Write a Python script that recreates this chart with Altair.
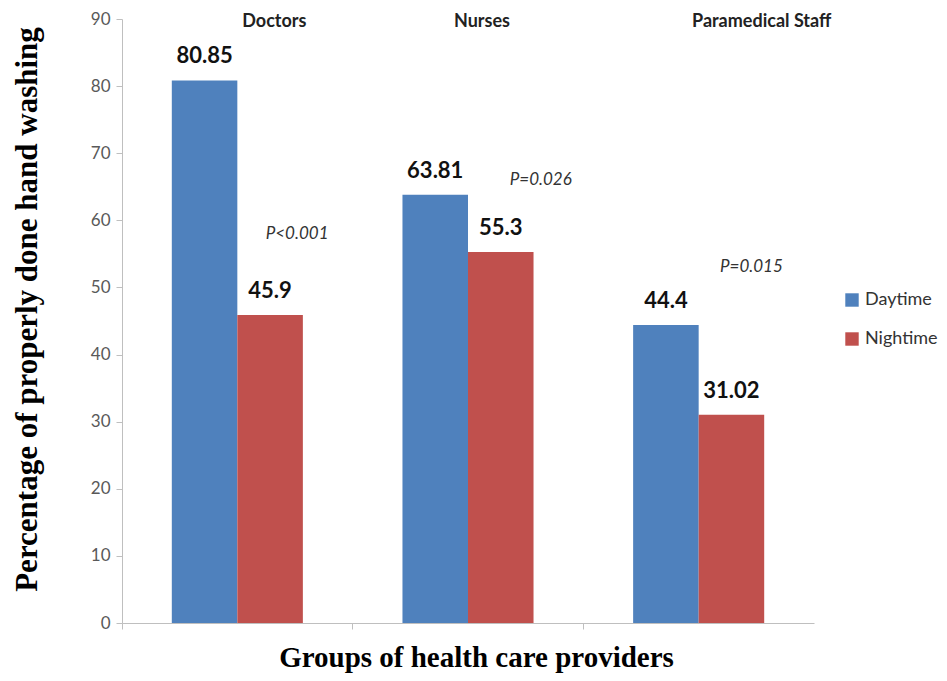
import altair as alt
import pandas as pd

groups = ["Doctors", "Nurses", "Paramedical Staff"]
shifts = ["Daytime", "Nightime"]
daytime = [80.85, 63.81, 44.4]
nighttime = [45.9, 55.3, 31.02]
daytime_labels = ["80.85", "63.81", "44.4"]
nighttime_labels = ["45.9", "55.3", "31.02"]
p_labels = ["P<0.001", "P=0.026", "P=0.015"]
p_y = [58, 66, 53]
group_label_y = [90, 90, 90]

rows = []
for g, v, l in zip(groups, daytime, daytime_labels):
    rows.append({"group": g, "shift": shifts[0], "value": v, "label": l})
for g, v, l in zip(groups, nighttime, nighttime_labels):
    rows.append({"group": g, "shift": shifts[1], "value": v, "label": l})
df = pd.DataFrame(rows)

FONT = "Lato"
SERIF = "Liberation Serif"

x_axis = alt.Axis(title="Groups of health care providers", labels=False,
                  bandPosition=0, tickSize=6, tickColor="#BFBFBF", grid=False,
                  domainColor="#BFBFBF", titleFont=SERIF, titleFontSize=29,
                  titleFontWeight="bold", titleColor="#000000",
                  titleX=354, titleY=34, titleBaseline="middle", titleAlign="center")
y_axis = alt.Axis(title="Percentage of properly done hand washing",
                  values=list(range(0, 91, 10)), tickSize=6, tickColor="#BFBFBF",
                  domainColor="#BFBFBF", labelFont=FONT, labelFontSize=17,
                  labelColor="#595959", labelPadding=6, grid=False,
                  titleFont=SERIF, titleFontSize=31, titleFontWeight="bold",
                  titleColor="#000000", titleX=-95, titleY=290, titleAngle=-90,
                  titleBaseline="middle", titleAlign="center")

def xenc():
    return alt.X("group:N", sort=groups,
                 scale=alt.Scale(paddingInner=0, paddingOuter=0), axis=x_axis)

def yenc(field):
    return alt.Y(field, scale=alt.Scale(domain=[0, 90]), axis=y_axis)

xoff = alt.XOffset("shift:N", sort=shifts,
                   scale=alt.Scale(paddingInner=0, paddingOuter=0.76))

color = alt.Color("shift:N",
                  scale=alt.Scale(domain=shifts, range=["#4F81BD", "#C0504D"]),
                  legend=alt.Legend(title=None, orient="none", legendX=721, legendY=272,
                                    symbolType="square", symbolSize=180,
                                    symbolStrokeWidth=0, labelFont=FONT,
                                    labelFontSize=18, labelColor="#333333",
                                    rowPadding=21, labelOffset=4))

bars = alt.Chart(df).mark_bar().encode(x=xenc(), xOffset=xoff, y=yenc("value:Q"), color=color)

vals = alt.Chart(df).mark_text(baseline="bottom", dy=-12, font=FONT, fontSize=22,
                               fontWeight="bold", color="#111111").encode(
    x=xenc(), xOffset=xoff, y=yenc("value:Q"), text="label:N")

layers = [bars, vals]

cat_dx = [37, 14, 63]
p_dx = [27, 40, 20]
for i, g in enumerate(groups):
    gdf = pd.DataFrame({"group": [g], "top": [group_label_y[i]], "text": [g]})
    layers.append(alt.Chart(gdf).mark_text(baseline="middle", dx=cat_dx[i], dy=3, font=FONT,
                                           fontSize=18, fontWeight="bold",
                                           color="#222222").encode(
        x=xenc(), y=yenc("top:Q"), text="text:N"))
    pdf = pd.DataFrame({"group": [g], "shift": [shifts[1]], "py": [p_y[i]], "text": [p_labels[i]]})
    layers.append(alt.Chart(pdf).mark_text(baseline="middle", dx=p_dx[i], font=FONT,
                                           fontSize=17, fontStyle="italic",
                                           color="#333333").encode(
        x=xenc(), xOffset=xoff, y=yenc("py:Q"), text="text:N"))

chart = alt.layer(*layers).properties(
    width=692, height=604, autosize="none", background="#ffffff",
    padding={"left": 114, "top": 11, "right": 124, "bottom": 50}
).configure_view(stroke=None).configure_axis(grid=False)

chart.save("out.html", embed_options={"renderer": "svg", "actions": False})
